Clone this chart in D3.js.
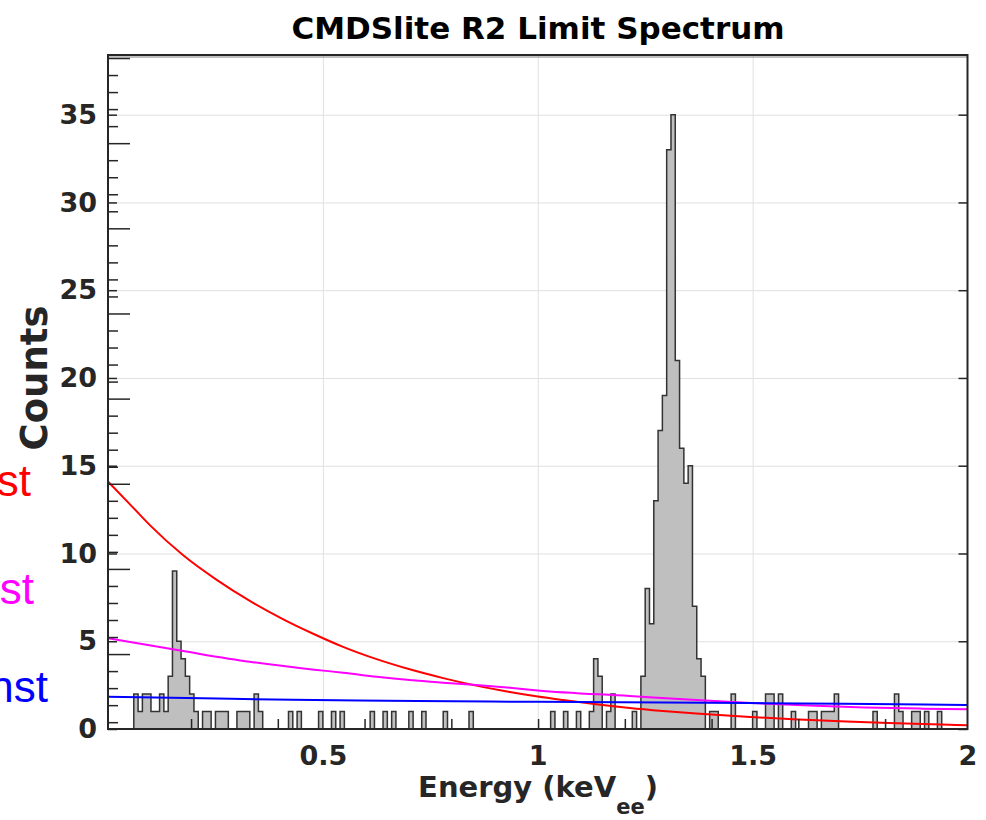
<!DOCTYPE html>
<html lang="en">
  <head>
    <meta charset="UTF-8" />
    <title>CMDSlite R2 Limit Spectrum</title>
    <script src="https://d3js.org/d3.v7.min.js"></script>
    <style>
      body { margin: 0; background: #fff; }
      .tick-label { font-family: "DejaVu Sans", sans-serif; font-weight: bold; font-size: 27px; fill: #262626; }
      .model { fill: none; stroke-width: 2px; }
    </style>
  </head>
  <body>
    <svg id="chart" width="986" height="820"></svg>
    <script>
      // histogram: non-empty bins, 0.01 keV wide, given by their lower edge
      const binStart = [
        0.06, 0.07, 0.08, 0.09, 0.10, 0.11, 0.12, 0.13, 0.14, 0.15, 0.16, 0.17, 0.18, 0.19, 0.20,
        0.22, 0.23, 0.25, 0.26, 0.27, 0.30, 0.31, 0.32, 0.34, 0.35,
        0.42, 0.44, 0.49, 0.52, 0.54, 0.61, 0.64, 0.66, 0.70, 0.73, 0.78, 0.84,
        1.03, 1.06, 1.09, 1.12, 1.13, 1.14, 1.16, 1.17, 1.22,
        1.24, 1.25, 1.26, 1.27, 1.28, 1.29, 1.30, 1.31, 1.32, 1.33, 1.34, 1.35, 1.36, 1.37, 1.38,
        1.40, 1.41, 1.45, 1.50, 1.53, 1.54, 1.56, 1.59, 1.63, 1.64, 1.66, 1.67, 1.68, 1.69,
        1.78, 1.83, 1.84, 1.87, 1.88, 1.90, 1.93
      ];
      const binCount = [
        2, 1, 2, 2, 1, 1, 2, 1, 3, 9, 5, 4, 3, 2, 1,
        1, 1, 1, 1, 1, 1, 1, 1, 2, 1,
        1, 1, 1, 1, 1, 1, 1, 1, 1, 1, 1, 1,
        1, 1, 1, 1, 4, 3, 1, 2, 1,
        3, 8, 6, 13, 17, 19, 33, 35, 21, 16, 14, 15, 7, 4, 3,
        1, 1, 2, 1, 2, 2, 2, 1, 1, 1, 1, 1, 1, 2,
        1, 2, 1, 1, 1, 1, 1
      ];
      const binWidth = 0.01;

      // model curves (counts per bin)
      const redE = [0, 0.059, 0.098, 0.175, 0.253, 0.33, 0.408, 0.48, 0.547, 0.625, 0.702, 0.78, 0.857, 0.935, 1.0, 1.059, 1.136, 1.214, 1.291, 1.369, 1.485, 1.594, 1.718, 1.834, 1.958, 2.0];
      const redCounts = [14.1, 12.6, 11.6, 9.9, 8.5, 7.3, 6.25, 5.4, 4.68, 3.98, 3.4, 2.9, 2.47, 2.11, 1.85, 1.65, 1.41, 1.2, 1.03, 0.88, 0.7, 0.56, 0.43, 0.33, 0.24, 0.22];
      const magentaE = [0, 0.175, 0.33, 0.48, 0.547, 0.625, 0.702, 0.78, 0.857, 0.935, 1.0, 1.214, 1.369, 1.485, 1.617, 1.76, 1.896, 2.0];
      const magentaCounts = [5.17, 4.44, 3.83, 3.38, 3.21, 2.98, 2.79, 2.64, 2.51, 2.35, 2.2, 1.88, 1.65, 1.5, 1.35, 1.23, 1.16, 1.12];
      const blueE = [0, 0.22, 0.43, 0.65, 0.89, 1.0, 1.49, 1.9, 2.0];
      const blueCounts = [1.84, 1.75, 1.66, 1.61, 1.56, 1.55, 1.48, 1.39, 1.37];

      const legendTails = ["st", "st", "nst"];
      const legendColors = ["#ff0000", "#ff00ff", "#0000ff"];

      const xTicks = [0.5, 1, 1.5, 2];
      const yTicks = [0, 5, 10, 15, 20, 25, 30, 35];
      // overlaid second axes (unlabelled ticks)
      const x2Ticks = [0.2, 0.4, 0.6, 0.8, 1.0, 1.2, 1.4, 1.6, 1.8];
      const y2Major = [5, 10, 15, 20, 25, 30, 35, 40];
      const y2Minor = d3.range(1, 41).filter((v) => v % 5 !== 0);

      const svg = d3.select("#chart");
      const plotLeft = 108, plotRight = 967.5, plotTop = 55, plotBottom = 729;
      const plotW = plotRight - plotLeft, plotH = plotBottom - plotTop;

      const x = d3.scaleLinear().domain([0, 2]).range([plotLeft, plotRight]);
      const y = d3.scaleLinear().domain([0, 38.4]).range([plotBottom, plotTop]);
      const x2 = d3.scaleLinear().domain([0.0085, 1.99]).range([plotLeft, plotRight]);
      const y2 = d3.scaleLinear().domain([0.6, 40.06]).range([plotBottom, 57]);

      svg.append("defs").append("clipPath").attr("id", "plot-clip")
        .append("rect").attr("x", plotLeft).attr("y", plotTop).attr("width", plotW).attr("height", plotH);

      const noDomain = (g) => g.select(".domain").remove();

      // grid
      svg.append("g")
        .attr("transform", `translate(${plotLeft},0)`)
        .call(d3.axisLeft(y).tickValues(yTicks.filter((v) => v > 0)).tickSize(-plotW).tickFormat(""))
        .call(noDomain)
        .selectAll("line").attr("stroke", "#e0e0e0").attr("stroke-width", 1);
      svg.append("g")
        .attr("transform", `translate(0,${plotBottom})`)
        .call(d3.axisBottom(x).tickValues(xTicks.filter((v) => v < 2)).tickSize(-plotH).tickFormat(""))
        .call(noDomain)
        .selectAll("line").attr("stroke", "#e0e0e0").attr("stroke-width", 1);

      // histogram
      const counts = d3.range(200).map(() => 0);
      binStart.forEach((e, i) => { counts[Math.round(e / binWidth)] = binCount[i]; });
      const steps = counts.map((c, i) => ({ e: i * binWidth, c: c }));
      steps.push({ e: 2, c: 0 });
      const area = d3.area()
        .curve(d3.curveStepAfter)
        .x((d) => x(d.e))
        .y0(y(0))
        .y1((d) => y(d.c));
      svg.append("path")
        .datum(steps)
        .attr("d", area)
        .attr("fill", "#bfbfbf")
        .attr("stroke", "#333333")
        .attr("stroke-width", 1.5)
        .attr("clip-path", "url(#plot-clip)");

      // model curves
      const line = d3.line().curve(d3.curveMonotoneX).x((d) => x(d[0])).y((d) => y(d[1]));
      const models = [
        [redE, redCounts, "#ff0000"],
        [magentaE, magentaCounts, "#ff00ff"],
        [blueE, blueCounts, "#0000ff"],
      ];
      models.forEach(([es, cs, col]) => {
        svg.append("path")
          .datum(es.map((e, i) => [e, cs[i]]))
          .attr("class", "model")
          .attr("stroke", col)
          .attr("d", line)
          .attr("clip-path", "url(#plot-clip)");
      });

      // second axes ticks
      svg.append("g").attr("transform", `translate(${plotLeft},0)`)
        .call(d3.axisLeft(y2).tickValues(y2Major).tickSize(-22).tickFormat(""))
        .call(noDomain)
        .selectAll("line").attr("stroke", "#262626").attr("stroke-width", 1.5);
      svg.append("g").attr("transform", `translate(${plotLeft},0)`)
        .call(d3.axisLeft(y2).tickValues(y2Minor).tickSize(-10).tickFormat(""))
        .call(noDomain)
        .selectAll("line").attr("stroke", "#262626").attr("stroke-width", 1.5);
      svg.append("g").attr("transform", `translate(0,${plotBottom})`)
        .call(d3.axisBottom(x2).tickValues(x2Ticks).tickSize(-10).tickFormat(""))
        .call(noDomain)
        .selectAll("line").attr("stroke", "#262626").attr("stroke-width", 1.5);
      svg.append("line")
        .attr("x1", plotLeft).attr("x2", plotRight).attr("y1", y2.range()[1]).attr("y2", y2.range()[1])
        .attr("stroke", "#808080").attr("stroke-width", 1);

      // main axes
      const yAxis = svg.append("g").attr("transform", `translate(${plotLeft},0)`)
        .call(d3.axisLeft(y).tickValues(yTicks).tickSize(-9).tickPadding(11))
        .call(noDomain);
      yAxis.selectAll("line").attr("stroke", "#262626").attr("stroke-width", 1.5);
      yAxis.selectAll("text").attr("class", "tick-label");
      yAxis.attr("font-size", null).attr("font-family", null);

      svg.append("g").attr("transform", `translate(${plotRight},0)`)
        .call(d3.axisRight(y).tickValues(yTicks).tickSize(-9).tickFormat(""))
        .call(noDomain)
        .selectAll("line").attr("stroke", "#262626").attr("stroke-width", 1.5);

      const xAxis = svg.append("g").attr("transform", `translate(0,${plotBottom})`)
        .call(d3.axisBottom(x).tickValues(xTicks).tickSize(0).tickPadding(17).tickFormat(d3.format("~g")))
        .call(noDomain);
      xAxis.selectAll("text").attr("class", "tick-label");
      xAxis.attr("font-size", null).attr("font-family", null);

      svg.append("rect")
        .attr("x", plotLeft).attr("y", plotTop).attr("width", plotW).attr("height", plotH)
        .attr("fill", "none").attr("stroke", "#262626").attr("stroke-width", 2);

      // labels
      svg.append("text")
        .attr("x", 538).attr("y", 39)
        .attr("text-anchor", "middle")
        .style("font-family", "DejaVu Sans").style("font-weight", "bold").style("font-size", "31px")
        .style("fill", "#000")
        .text("CMDSlite R2 Limit Spectrum");

      const xl = svg.append("text")
        .attr("x", 538).attr("y", 797)
        .attr("text-anchor", "middle")
        .style("font-family", "DejaVu Sans").style("font-weight", "bold").style("font-size", "29px")
        .style("fill", "#262626");
      xl.append("tspan").text("Energy (keV");
      xl.append("tspan").attr("dy", 17).style("font-size", "21px").text("ee");
      xl.append("tspan").attr("dy", -17).text(")");

      svg.append("text")
        .attr("transform", "translate(47,378) rotate(-90)")
        .attr("text-anchor", "middle")
        .style("font-family", "DejaVu Sans").style("font-weight", "bold").style("font-size", "37px")
        .style("fill", "#262626")
        .text("Counts");

      // legend entries cut off at the left edge
      const legendY = [496, 604, 702];
      const legendX = [31, 34, 48];
      svg.selectAll(".legend-tail")
        .data(legendTails)
        .enter()
        .append("text")
        .attr("class", "legend-tail")
        .attr("x", (d, i) => legendX[i])
        .attr("y", (d, i) => legendY[i])
        .attr("text-anchor", "end")
        .style("font-family", "Liberation Sans, Arial, sans-serif")
        .style("font-size", "44px")
        .style("fill", (d, i) => legendColors[i])
        .text((d) => d);
    </script>
  </body>
</html>
